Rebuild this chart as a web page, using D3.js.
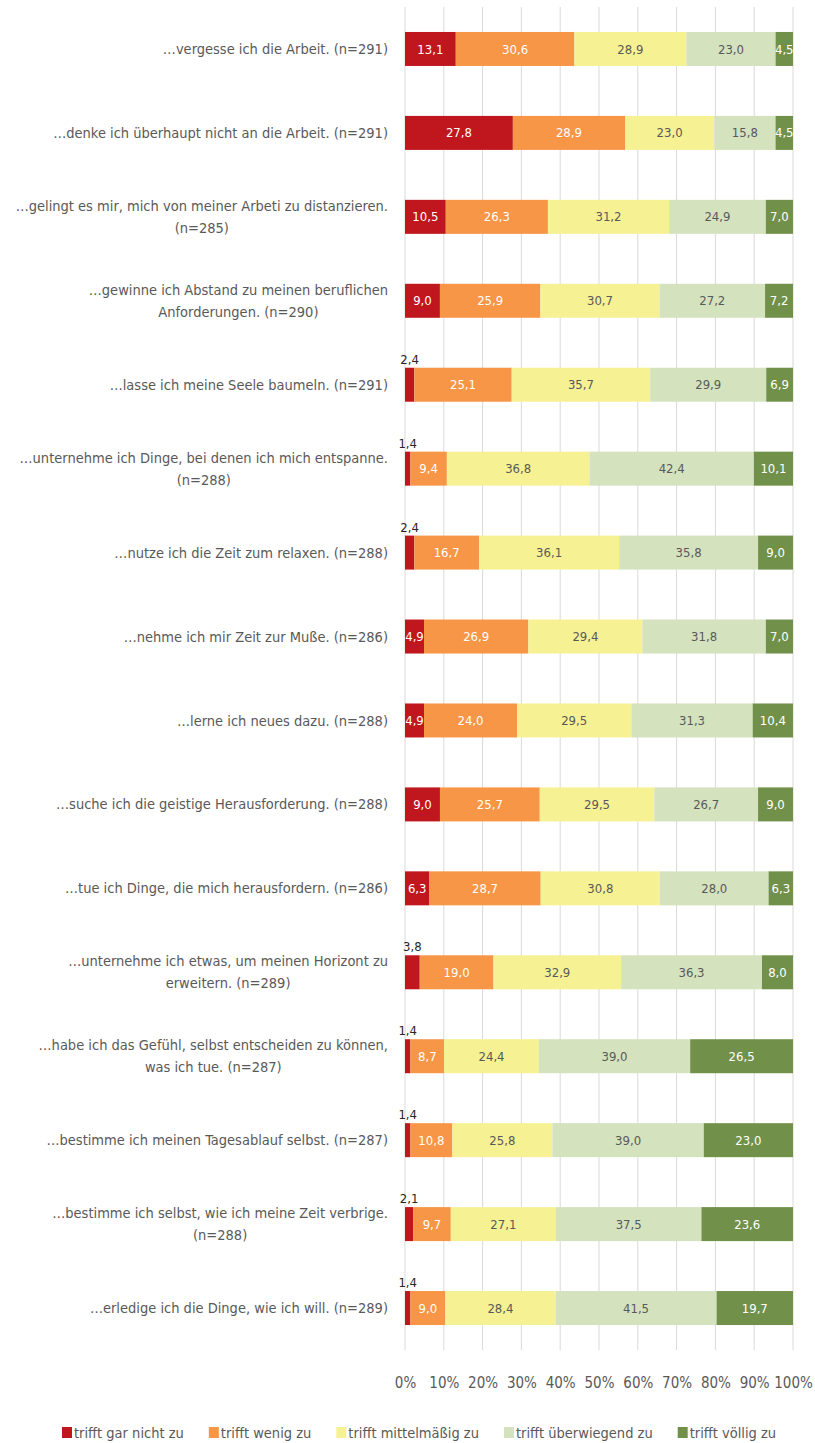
<!DOCTYPE html>
<html>
<head>
<meta charset="utf-8">
<script src="https://cdn.jsdelivr.net/npm/d3@7"></script>
<style>
  body { margin: 0; background: #fff; }
  text { font-family: "DejaVu Sans Condensed", "Liberation Sans Narrow", sans-serif; }
</style>
</head>
<body>
<svg width="815" height="1443"></svg>
<script>
// categories (each entry: lines of the label)
var categories = [
    ["…vergesse ich die Arbeit. (n=291)"],
    ["…denke ich überhaupt nicht an die Arbeit. (n=291)"],
    ["…gelingt es mir, mich von meiner Arbeti zu distanzieren.", "(n=285)"],
    ["…gewinne ich Abstand zu meinen beruflichen", "Anforderungen. (n=290)"],
    ["…lasse ich meine Seele baumeln. (n=291)"],
    ["…unternehme ich Dinge, bei denen ich mich entspanne.", "(n=288)"],
    ["…nutze ich die Zeit zum relaxen. (n=288)"],
    ["…nehme ich mir Zeit zur Muße. (n=286)"],
    ["…lerne ich neues dazu. (n=288)"],
    ["…suche ich die geistige Herausforderung. (n=288)"],
    ["…tue ich Dinge, die mich herausfordern. (n=286)"],
    ["…unternehme ich etwas, um meinen Horizont zu", "erweitern. (n=289)"],
    ["…habe ich das Gefühl, selbst entscheiden zu können,", "was ich tue. (n=287)"],
    ["…bestimme ich meinen Tagesablauf selbst. (n=287)"],
    ["…bestimme ich selbst, wie ich meine Zeit verbrige.", "(n=288)"],
    ["…erledige ich die Dinge, wie ich will. (n=289)"]
];

var seriesNames = ["trifft gar nicht zu", "trifft wenig zu", "trifft mittelmäßig zu", "trifft überwiegend zu", "trifft völlig zu"];

var garNicht     = [13.1, 27.8, 10.5, 9.0, 2.4, 1.4, 2.4, 4.9, 4.9, 9.0, 6.3, 3.8, 1.4, 1.4, 2.1, 1.4];
var wenig        = [30.6, 28.9, 26.3, 25.9, 25.1, 9.4, 16.7, 26.9, 24.0, 25.7, 28.7, 19.0, 8.7, 10.8, 9.7, 9.0];
var mittel       = [28.9, 23.0, 31.2, 30.7, 35.7, 36.8, 36.1, 29.4, 29.5, 29.5, 30.8, 32.9, 24.4, 25.8, 27.1, 28.4];
var ueberwiegend = [23.0, 15.8, 24.9, 27.2, 29.9, 42.4, 35.8, 31.8, 31.3, 26.7, 28.0, 36.3, 39.0, 39.0, 37.5, 41.5];
var voellig      = [4.5, 4.5, 7.0, 7.2, 6.9, 10.1, 9.0, 7.0, 10.4, 9.0, 6.3, 8.0, 26.5, 23.0, 23.6, 19.7];

var tickLabels = ["0%", "10%", "20%", "30%", "40%", "50%", "60%", "70%", "80%", "90%", "100%"];

function main() {
    var svg = d3.select("svg");

    var colors = ["#c0161e", "#f79646", "#f6f193", "#d4e2be", "#71914a"];
    var labelColors = ["#ffffff", "#ffffff", "#595959", "#595959", "#ffffff"];

    var allSeries = [garNicht, wenig, mittel, ueberwiegend, voellig];
    var keys = seriesNames;

    var data = categories.map(function(c, i) {
        var row = { idx: i };
        keys.forEach(function(k, j) { row[k] = allSeries[j][i]; });
        return row;
    });

    var x = d3.scaleLinear().domain([0, 1]).range([405, 793]);
    var y = d3.scaleBand()
        .domain(d3.range(categories.length))
        .range([7, 1350])
        .paddingInner(0.595)
        .paddingOuter(0.2975);

    // gridlines
    svg.append("g")
        .selectAll("line")
        .data(d3.range(0, 1.0001, 0.1))
        .enter().append("line")
        .attr("x1", function(d) { return x(d); })
        .attr("x2", function(d) { return x(d); })
        .attr("y1", 7)
        .attr("y2", 1350)
        .attr("stroke", "#d9d9d9")
        .attr("stroke-width", 1);

    // x axis labels
    var xAxis = svg.append("g")
        .attr("transform", "translate(0,1350)")
        .call(d3.axisBottom(x).tickValues(d3.range(0, 1.0001, 0.1))
            .tickFormat(function(d, i) { return tickLabels[i]; })
            .tickSize(0).tickPadding(27));
    xAxis.select(".domain").remove();
    xAxis.selectAll("text")
        .attr("font-size", "15px")
        .attr("fill", "#595959")
        .style("font-family", "'DejaVu Sans Condensed', sans-serif");

    var stackedData = d3.stack()
        .keys(keys)
        .offset(d3.stackOffsetExpand)(data);

    var layers = svg.append("g")
        .selectAll("g")
        .data(stackedData)
        .enter().append("g")
        .attr("fill", function(d, i) { return colors[i]; });

    layers.selectAll("rect")
        .data(function(d) { return d; })
        .enter().append("rect")
        .attr("x", function(d) { return x(d[0]); })
        .attr("y", function(d) { return y(d.data.idx); })
        .attr("width", function(d) { return x(d[1]) - x(d[0]); })
        .attr("height", y.bandwidth());

    // data labels (small values sit above the bar)
    stackedData.forEach(function(layer, li) {
        svg.append("g")
            .selectAll("text")
            .data(layer)
            .enter().append("text")
            .attr("x", function(d) { return (x(d[0]) + x(d[1])) / 2; })
            .attr("y", function(d) {
                var v = d.data[layer.key];
                if (v < 4) return y(d.data.idx) - 4;
                return y(d.data.idx) + y.bandwidth() / 2;
            })
            .attr("dy", function(d) { return d.data[layer.key] < 4 ? "0" : "0.35em"; })
            .attr("text-anchor", "middle")
            .attr("font-size", "13px")
            .attr("fill", function(d) { return d.data[layer.key] < 4 ? "#262626" : labelColors[li]; })
            .text(function(d) { return d3.format(".1f")(d.data[layer.key]).replace(".", ","); });
    });

    // category labels
    var catG = svg.append("g");
    categories.forEach(function(lines, i) {
        var t = catG.append("text")
            .attr("text-anchor", "middle")
            .attr("font-size", "14.5px")
            .attr("fill", "#595959");
        var cy = y(i) + y.bandwidth() / 2;
        var n = lines.length;
        lines.forEach(function(l, k) {
            t.append("tspan")
                .attr("y", cy + (k - (n - 1) / 2) * 22)
                .attr("dy", "0.35em")
                .text(l);
        });
        var maxW = 0;
        t.selectAll("tspan").each(function() { maxW = Math.max(maxW, this.getComputedTextLength()); });
        t.selectAll("tspan").attr("x", 388 - maxW / 2);
    });

    // legend, laid out left to right
    var leg = svg.append("g");
    var lx = 62;
    seriesNames.forEach(function(name, i) {
        leg.append("rect")
            .attr("x", lx)
            .attr("y", 1427)
            .attr("width", 10)
            .attr("height", 11)
            .attr("fill", colors[i]);
        var t = leg.append("text")
            .attr("x", lx + 12)
            .attr("y", 1433)
            .attr("dy", "0.35em")
            .attr("font-size", "14.5px")
            .attr("fill", "#595959")
            .text(name);
        lx = lx + 12 + t.node().getComputedTextLength() + 25;
    });
}
main();
</script>
</body>
</html>
